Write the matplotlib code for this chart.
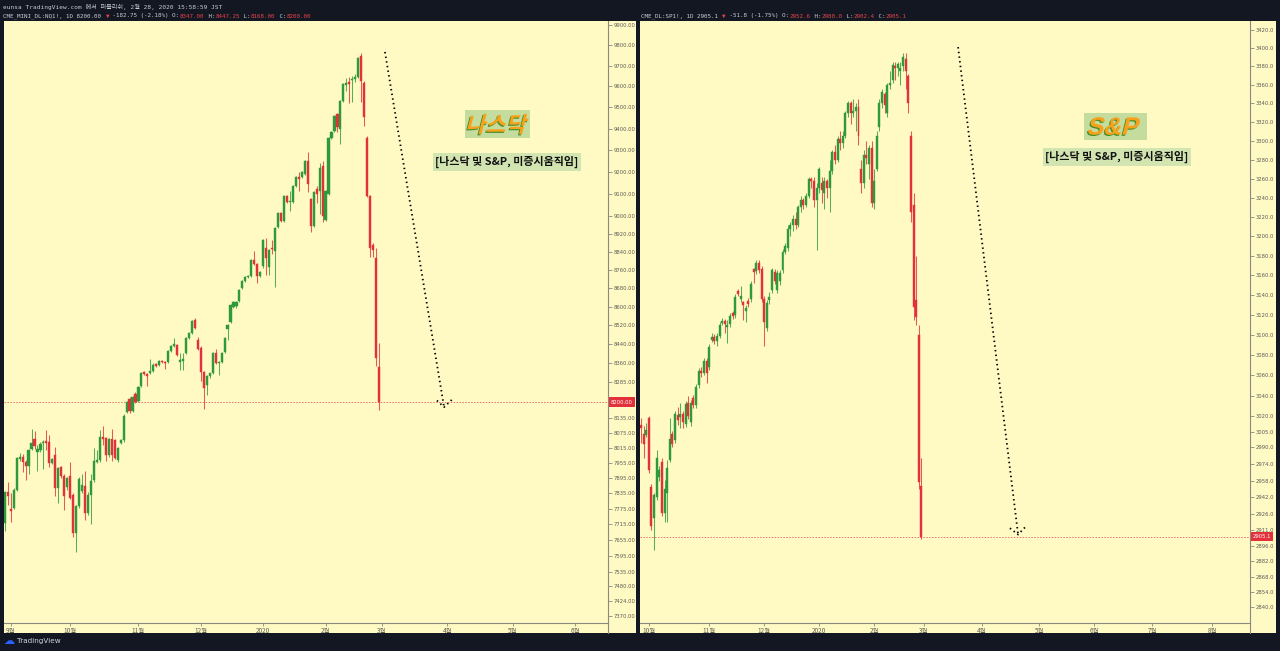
import numpy as np
import matplotlib.pyplot as plt
from matplotlib.patches import Rectangle, PathPatch
from matplotlib.lines import Line2D
from matplotlib.textpath import TextPath
from matplotlib.font_manager import FontProperties
from matplotlib.transforms import Affine2D
from matplotlib.ticker import FixedLocator, NullLocator

# ---------------- data ----------------
# NQ1! daily bars, 2019-08-29 .. 2020-02-28  (open, high, low, close)
nq_ohlc = [
    (7720, 7845, 7690, 7840), (7840, 7880, 7790, 7825), (7775, 7835, 7725, 7765), (7780, 7855, 7775, 7849),
    (7849, 7980, 7845, 7975), (7970, 7995, 7963, 7978), (7978, 7990, 7920, 7960), (7960, 7965, 7888, 7945),
    (7945, 8012, 7910, 8007), (8010, 8090, 8005, 8035), (8050, 8085, 8012, 8022), (8000, 8025, 7925, 8010),
    (8005, 8040, 8000, 8030), (8035, 8047, 7930, 8037), (8042, 8087, 8007, 8035), (8037, 8067, 7938, 7955),
    (7955, 7975, 7950, 7970), (7985, 8020, 7825, 7855), (7855, 7940, 7798, 7935), (7938, 7945, 7895, 7905),
    (7905, 7910, 7771, 7825), (7860, 7900, 7850, 7895), (7905, 7960, 7815, 7818), (7830, 7835, 7665, 7680),
    (7680, 7790, 7610, 7785), (7785, 7900, 7780, 7892), (7845, 7910, 7838, 7870), (7865, 7925, 7732, 7760),
    (7760, 7840, 7750, 7830), (7830, 7910, 7715, 7885), (7888, 8015, 7880, 7963), (7960, 8005, 7955, 7965),
    (7965, 8087, 7960, 8060), (8058, 8105, 8027, 8050), (8053, 8060, 7963, 7985), (7985, 8055, 7980, 8050),
    (8052, 8090, 7963, 7985), (8045, 8050, 7970, 7975), (7967, 8020, 7960, 8015), (8035, 8050, 8030, 8045),
    (8045, 8150, 8040, 8145), (8160, 8205, 8155, 8200), (8213, 8220, 8155, 8165), (8165, 8225, 8160, 8220),
    (8235, 8240, 8195, 8200), (8205, 8268, 8200, 8262), (8267, 8325, 8262, 8320), (8325, 8330, 8310, 8316),
    (8316, 8320, 8267, 8308), (8320, 8378, 8318, 8330), (8330, 8360, 8325, 8355), (8358, 8362, 8345, 8350),
    (8355, 8376, 8350, 8372), (8372, 8376, 8360, 8365), (8368, 8372, 8337, 8360), (8365, 8418, 8360, 8413),
    (8413, 8438, 8408, 8433), (8433, 8467, 8428, 8443), (8436, 8440, 8390, 8395), (8365, 8404, 8333, 8374),
    (8372, 8404, 8333, 8378), (8404, 8472, 8400, 8467), (8467, 8492, 8462, 8488), (8488, 8545, 8485, 8540),
    (8545, 8550, 8505, 8510), (8459, 8470, 8415, 8422), (8426, 8432, 8286, 8323), (8323, 8330, 8171, 8257),
    (8270, 8310, 8229, 8306), (8306, 8322, 8300, 8319), (8319, 8410, 8315, 8405), (8405, 8422, 8358, 8363),
    (8360, 8370, 8310, 8367), (8367, 8410, 8362, 8405), (8409, 8472, 8405, 8468), (8506, 8525, 8459, 8522),
    (8535, 8612, 8530, 8608), (8599, 8625, 8595, 8621), (8602, 8625, 8595, 8620), (8625, 8678, 8620, 8673),
    (8682, 8716, 8678, 8712), (8712, 8734, 8708, 8730), (8730, 8738, 8726, 8734), (8734, 8808, 8730, 8803),
    (8803, 8843, 8782, 8786), (8786, 8790, 8704, 8734), (8734, 8755, 8728, 8751), (8777, 8895, 8770, 8891),
    (8856, 8900, 8737, 8812), (8773, 8852, 8737, 8847), (8856, 8890, 8830, 8852), (8843, 8950, 8684, 8945),
    (8949, 9016, 8945, 9012), (9012, 9018, 8972, 8976), (8976, 9093, 8972, 9089), (9089, 9094, 9058, 9062),
    (9062, 9112, 9023, 9066), (9062, 9138, 9058, 9134), (9134, 9180, 9130, 9175), (9175, 9198, 9111, 9166),
    (9175, 9203, 9170, 9198), (9189, 9254, 9185, 9249), (9249, 9290, 9107, 9143), (9075, 9080, 8927, 8954),
    (8954, 9111, 8949, 9107), (9120, 9136, 9057, 9098), (9111, 9240, 9007, 9217), (9226, 9249, 8972, 8998),
    (8981, 9115, 8976, 9111), (9098, 9360, 9094, 9356), (9356, 9388, 9350, 9384), (9388, 9462, 9384, 9459),
    (9468, 9475, 9384, 9407), (9398, 9535, 9328, 9530), (9530, 9615, 9525, 9611), (9605, 9640, 9580, 9616),
    (9621, 9645, 9520, 9611), (9630, 9650, 9525, 9635), (9635, 9660, 9620, 9645), (9645, 9740, 9640, 9737),
    (9746, 9761, 9525, 9626), (9616, 9625, 9412, 9454), (9356, 9365, 9085, 9089), (9089, 9093, 8816, 8856),
    (8869, 8880, 8816, 8847), (8812, 8856, 8350, 8384), (8347, 8447.25, 8168, 8200),
]
# bars between consecutive time-axis labels (first entry = bars before the first label)
nq_month_labels = ['9월', '10월', '11월', '12월', '2020', '2월', '3월', '4월', '5월', '6월']
nq_month_bars = [2, 20, 23, 21, 21, 21, 19, 22, 22, 21]
nq_price_ticks = [9900, 9800, 9700, 9600, 9500, 9400, 9300, 9200, 9100, 9000, 8920, 8840, 8760,
                  8680, 8600, 8520, 8440, 8360, 8285, 8135, 8075, 8015, 7955, 7895, 7835, 7775,
                  7715, 7655, 7595, 7535, 7480, 7424, 7370]
nq_last = 8200.00

# SP1! daily bars, 2019-09-26 .. 2020-02-28
es_ohlc = [
    (3011, 3018, 2994, 3008), (3003, 3010, 2980, 2993), (3002, 3013, 3000, 3007), (3018, 3020, 2965, 2968),
    (2952, 2955, 2911, 2915), (2923, 2946, 2893, 2944), (2942, 2987, 2940, 2980), (2961, 2972, 2958, 2968),
    (2976, 2980, 2924, 2927), (2927, 2959, 2919, 2950), (2946, 2978, 2919, 2970), (2978, 3018, 2976, 2998),
    (3003, 3006, 2990, 2993), (2997, 3025, 2994, 3022), (3021, 3029, 3011, 3016), (3019, 3033, 3008, 3022),
    (3022, 3025, 3008, 3014), (3012, 3035, 3009, 3032), (3033, 3040, 3017, 3020), (3014, 3036, 3010, 3033),
    (3038, 3041, 3028, 3031), (3031, 3051, 3028, 3048), (3050, 3067, 3047, 3064), (3064, 3068, 3058, 3062),
    (3062, 3077, 3060, 3074), (3074, 3077, 3052, 3062), (3068, 3091, 3065, 3088), (3095, 3102, 3093, 3098),
    (3098, 3101, 3091, 3094), (3094, 3102, 3089, 3099), (3099, 3113, 3097, 3110), (3112, 3117, 3110, 3114),
    (3114, 3116, 3102, 3111), (3108, 3115, 3092, 3110), (3111, 3122, 3108, 3119), (3122, 3124, 3116, 3119),
    (3120, 3141, 3117, 3138), (3144, 3146, 3139, 3141), (3136, 3149, 3133, 3139), (3133, 3134, 3115, 3130),
    (3124, 3130, 3113, 3127), (3134, 3137, 3128, 3131), (3136, 3154, 3133, 3151), (3166, 3168, 3152, 3163),
    (3164, 3176, 3161, 3173), (3173, 3176, 3162, 3165), (3166, 3170, 3133, 3136), (3136, 3139, 3089, 3113),
    (3107, 3135, 3104, 3132), (3135, 3143, 3131, 3138), (3145, 3168, 3142, 3165), (3163, 3166, 3151, 3154),
    (3145, 3165, 3142, 3162), (3154, 3165, 3150, 3162), (3165, 3187, 3162, 3184), (3184, 3193, 3182, 3190),
    (3188, 3212, 3185, 3208), (3208, 3215, 3200, 3212), (3212, 3222, 3205, 3218), (3218, 3225, 3208, 3212),
    (3212, 3232, 3210, 3230), (3230, 3242, 3225, 3238), (3238, 3240, 3228, 3232), (3232, 3245, 3230, 3242),
    (3242, 3262, 3240, 3260), (3260, 3262, 3250, 3258), (3258, 3262, 3230, 3238), (3238, 3255, 3186, 3250),
    (3250, 3272, 3245, 3270), (3255, 3262, 3235, 3248), (3245, 3262, 3228, 3258), (3258, 3260, 3240, 3250),
    (3250, 3280, 3225, 3268), (3268, 3290, 3265, 3288), (3288, 3295, 3275, 3280), (3280, 3305, 3278, 3302),
    (3302, 3310, 3290, 3298), (3298, 3310, 3292, 3305), (3305, 3332, 3303, 3330), (3330, 3342, 3325, 3340),
    (3340, 3342, 3318, 3330), (3330, 3345, 3325, 3332), (3332, 3340, 3310, 3336), (3336, 3345, 3295, 3305),
    (3270, 3280, 3245, 3255), (3255, 3290, 3250, 3285), (3285, 3300, 3275, 3282), (3275, 3295, 3260, 3292),
    (3292, 3300, 3230, 3235), (3235, 3270, 3228, 3258), (3270, 3310, 3268, 3305), (3315, 3345, 3310, 3340),
    (3340, 3355, 3335, 3352), (3350, 3352, 3330, 3338), (3330, 3362, 3325, 3360), (3360, 3375, 3355, 3362),
    (3365, 3385, 3362, 3382), (3380, 3385, 3365, 3378), (3378, 3385, 3370, 3383), (3375, 3385, 3360, 3378),
    (3380, 3395, 3375, 3390), (3388, 3395, 3355, 3375), (3370, 3372, 3330, 3340), (3305, 3310, 3215, 3225),
    (3232, 3245, 3115, 3128), (3135, 3180, 3110, 3118), (3100, 3110, 2950, 2957), (2952.6, 2980.0, 2902.4, 2905.1),
]
es_month_labels = ['10월', '11월', '12월', '2020', '2월', '3월', '4월', '5월', '6월', '7월', '8월']
es_month_bars = [3, 23, 21, 21, 21, 19, 22, 22, 21, 22, 23]
es_price_ticks = [3420, 3400, 3380, 3360, 3340, 3320, 3300, 3280, 3260, 3240, 3220, 3200, 3180,
                  3160, 3140, 3120, 3100, 3080, 3060, 3040, 3020, 3005, 2990, 2974, 2958, 2942,
                  2926, 2911, 2896, 2882, 2868, 2854, 2840]
es_last = 2905.1

# ---------------- style ----------------
W, H = 1280, 651
DARK = '#131722'
PANEL = '#fff9c4'
UP = '#2e9a3a'
DOWN = '#e3313b'
AXIS = '#8a8a80'
TXT = '#5d5d55'
HEAD = '#c9ccd4'
HRED = '#e8434a'
KR = ['Noto Sans CJK KR', 'DejaVu Sans']
MONO = ['DejaVu Sans Mono', 'Noto Sans CJK KR']

fig = plt.figure(figsize=(12.8, 6.51), dpi=100, facecolor=DARK)


def fx(px):
    return px / W


def fy(py):
    return 1 - py / H


def panel(x0, x1, axis_x, ohlc, ylim, xlim, ticks, fmt, labels, month_bars, last, width):
    # yellow background for chart + price axis + time axis
    fig.add_artist(Rectangle((fx(x0), fy(633)), (x1 - x0) / W, 612 / H,
                             transform=fig.transFigure, fc=PANEL, ec='none', zorder=-5))
    ax = fig.add_axes([fx(x0), fy(623), (axis_x - x0) / W, 602 / H])
    ax.set_facecolor(PANEL)
    ax.set_yscale('log')
    ax.set_ylim(*ylim)
    ax.set_xlim(*xlim)

    o, h, l, c = np.array(ohlc, dtype=float).T
    x = np.arange(len(o))
    cols = np.where(c >= o, UP, DOWN)
    ax.vlines(x, l, h, colors=cols, lw=0.75, alpha=0.8, zorder=2)
    bottom = np.minimum(o, c)
    height = np.maximum(np.abs(c - o), bottom * 0.0005)
    ax.bar(x, height, width, bottom=bottom, color=cols, edgecolor=cols, linewidth=0.3, zorder=3)

    # last price line and tag
    ax.axhline(last, color='#e57373', lw=0.7, ls=(0, (1.5, 1.5)), zorder=1)
    ax.text(1.004, last, fmt % last, transform=ax.get_yaxis_transform(), ha='left', va='center',
            fontsize=3.8, color='white', clip_on=False,
            bbox=dict(boxstyle='square,pad=0.45', fc=DOWN, ec='none'))

    # price axis
    ax.yaxis.tick_right()
    ax.yaxis.set_major_locator(FixedLocator(ticks))
    ax.yaxis.set_minor_locator(NullLocator())
    ax.set_yticklabels([fmt % t for t in ticks])
    ax.tick_params(axis='y', direction='out', length=3, width=0.6, color=AXIS,
                   labelsize=3.8, labelcolor=TXT, pad=1.2)

    # time axis: one label per month start
    ax.set_xticks(np.cumsum(month_bars))
    ax.set_xticklabels(labels, family=KR)
    ax.tick_params(axis='x', direction='out', length=2, width=0.6, color=AXIS,
                   labelsize=4.6, labelcolor=TXT, pad=1.0)

    for s in ['top', 'left', 'right']:
        ax.spines[s].set_visible(False)
    ax.spines['bottom'].set_color(AXIS)
    ax.spines['bottom'].set_linewidth(0.8)
    fig.add_artist(Line2D([fx(axis_x), fx(axis_x)], [fy(21), fy(633)], color=AXIS, lw=0.8,
                          transform=fig.transFigure))
    return ax


ax1 = panel(4, 636, 608, nq_ohlc, (7344.5, 9918.1), (-0.27, 203.1), nq_price_ticks, '%.2f',
            nq_month_labels, nq_month_bars, nq_last, 0.72)
ax2 = panel(640, 1276, 1250, es_ohlc, (2825.4, 3429.7), (-0.38, 232.4), es_price_ticks, '%.1f',
            es_month_labels, es_month_bars, es_last, 0.76)

# dotted "projection" arrows
dot = dict(color='black', lw=1.3, ls=(0, (0.8, 1.8)), zorder=4, solid_capstyle='round')
ax1.plot([128, 147.9], [9766, 8180], **dot)
ax1.plot([145.5, 147.9, 150.6], [8207, 8180, 8211], **dot)
ax2.plot([121, 143.9], [3401, 2907], **dot)
ax2.plot([140.8, 143.9, 147.0], [2913, 2907, 2915], **dot)


# big italic titles with green shadow
def fancy(cx, cy, text, prop, size, box):
    bx0, by0, bx1, by1 = box
    fig.add_artist(Rectangle((fx(bx0), fy(by1)), (bx1 - bx0) / W, (by1 - by0) / H,
                             transform=fig.transFigure, fc='#c5dc9f', ec='none', zorder=5))
    path = TextPath((0, 0), text, size=size, prop=prop)
    path = Affine2D().skew_deg(14, 0).transform_path(path)
    ext = path.get_extents()
    dx = cx - (ext.x0 + ext.x1) / 2
    dy = (H - cy) - (ext.y0 + ext.y1) / 2
    to_fig = Affine2D().scale(1 / 100) + fig.dpi_scale_trans
    for (ox, oy), col in [((-1.2, -1.2), '#4c8f2c'), ((0, 0), '#f7a21b')]:
        p = Affine2D().translate(dx + ox, dy + oy).transform_path(path)
        fig.add_artist(PathPatch(p, transform=to_fig, fc=col, ec='none', zorder=6))


fancy(498, 124, '나스닥', FontProperties(family='Noto Sans CJK KR', weight='bold'), 22, (465, 110, 530, 138))
fancy(1114, 126, 'S&P', FontProperties(family='Liberation Sans', weight='bold'), 25, (1084, 113, 1147, 140))

note = '[나스닥 및 S&P, 미증시움직임]'
for cx, cy in [(507, 162), (1117, 157)]:
    fig.text(fx(cx), fy(cy), note, fontsize=7.9, weight='bold', family=KR, color='#111111',
             ha='center', va='center', zorder=6,
             bbox=dict(boxstyle='square,pad=0.22', fc='#d2e5b1', ec='none'))

# header lines
CW = 3.54


def header(x0, y, segs):
    x = x0
    for s, col in segs:
        fig.text(fx(x), fy(y), s, color=col, fontsize=4.25, family=MONO, ha='left', va='center')
        x += len(s) * CW


fig.text(fx(3), fy(7), 'eunsa TradingView.com 에서 퍼블리쉬, 2월 28, 2020 15:58:59 JST',
         color=HEAD, fontsize=4.4, family=MONO, ha='left', va='center')
header(3, 16, [('CME_MINI_DL:NQ1!, 1D 8200.00 ', HEAD), ('▼', HRED), (' -182.75 (-2.18%) O:', HEAD),
               ('8347.00', HRED), (' H:', HEAD), ('8447.25', HRED), (' L:', HEAD), ('8168.00', HRED),
               (' C:', HEAD), ('8200.00', HRED)])
header(641, 16, [('CME_DL:SP1!, 1D 2905.1 ', HEAD), ('▼', HRED), (' -51.8 (-1.75%) O:', HEAD),
                 ('2952.6', HRED), (' H:', HEAD), ('2980.0', HRED), (' L:', HEAD), ('2902.4', HRED),
                 (' C:', HEAD), ('2905.1', HRED)])

# footer logo
fig.text(fx(3), fy(641), '☁', color='#2962ff', fontsize=8, family=['DejaVu Sans'], ha='left', va='center')
fig.text(fx(17), fy(641), 'TradingView', color='#d1d4dc', fontsize=5.2, ha='left', va='center')

fig.savefig('out.png', dpi=100, facecolor=DARK)
